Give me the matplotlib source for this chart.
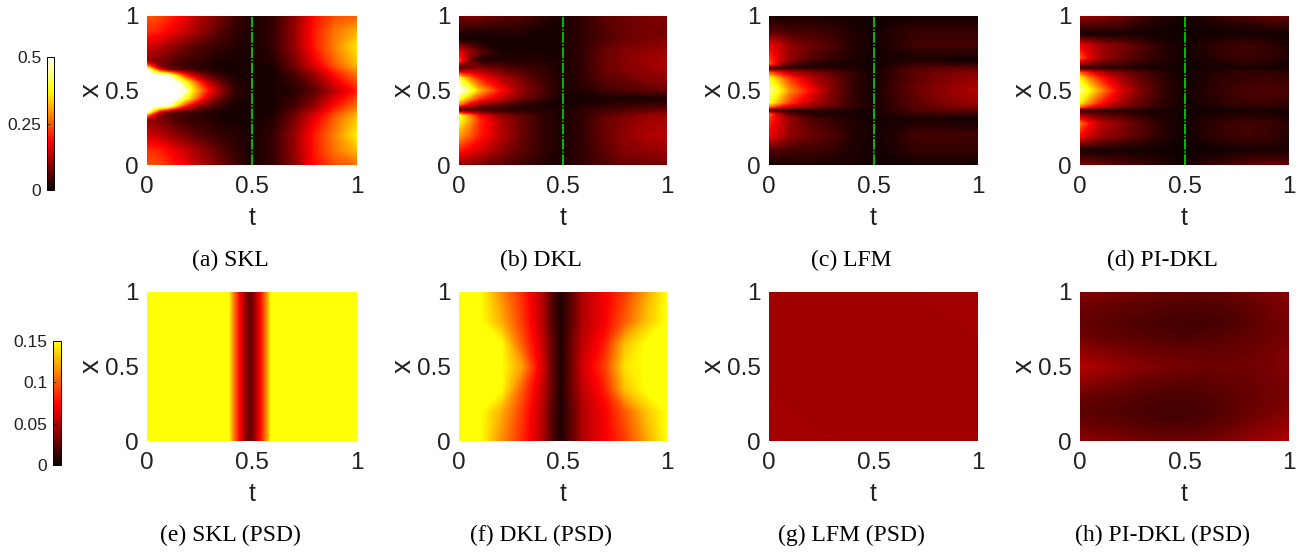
import numpy as np
import matplotlib
matplotlib.use("Agg")
import matplotlib.pyplot as plt
from matplotlib.cm import ScalarMappable
from matplotlib.colors import ListedColormap, Normalize

plt.rcParams['font.family'] = ['Liberation Sans', 'DejaVu Sans']

## time nodes shared by panels b, c, d
t_top = [0, .05, .1, .2, .3, .4, .5, .6, .7, .8, .9, 1]

## (a) SKL
t_a = [0, .03, .06, .1, .14, .18, .22, .26, .3, .36, .42, .5, .6, .7, .8, .9, 1]
x_a = [1, .9, .8, .7, .66, .64, .6, .55, .5, .45, .4, .36, .34, .3, .2, .1, 0]
z_a = [
    [.24, .24, .23, .21, .19, .17, .14, .12, .10, .07, .04, .01, .03, .09, .19, .24, .25],
    [.21, .21, .20, .18, .16, .14, .12, .10, .08, .05, .03, .01, .03, .10, .20, .27, .31],
    [.14, .14, .13, .11, .09, .08, .06, .05, .04, .03, .02, .01, .03, .10, .20, .28, .35],
    [.10, .09, .08, .07, .05, .04, .03, .03, .02, .01, .01, .01, .02, .08, .17, .26, .33],
    [.30, .18, .10, .06, .05, .04, .03, .02, .02, .01, .01, .01, .01, .07, .15, .24, .31],
    [.50, .32, .18, .09, .06, .05, .04, .03, .02, .01, .01, .01, .01, .06, .13, .22, .29],
    [.60, .58, .55, .48, .34, .22, .14, .09, .06, .03, .01, .01, .01, .04, .10, .19, .26],
    [.65, .62, .60, .57, .52, .40, .30, .20, .13, .06, .02, .01, .01, .03, .08, .16, .23],
    [.70, .66, .62, .58, .54, .48, .35, .26, .18, .09, .03, .01, .01, .02, .06, .13, .20],
    [.65, .62, .60, .57, .52, .40, .30, .20, .13, .06, .02, .01, .01, .03, .08, .16, .23],
    [.60, .58, .55, .48, .34, .22, .14, .09, .06, .03, .01, .01, .01, .04, .10, .19, .26],
    [.50, .32, .18, .09, .06, .05, .04, .03, .02, .01, .01, .01, .01, .06, .13, .22, .29],
    [.30, .18, .10, .06, .05, .04, .03, .02, .02, .01, .01, .01, .01, .07, .15, .24, .31],
    [.10, .09, .08, .07, .05, .04, .03, .03, .02, .01, .01, .01, .02, .08, .17, .26, .33],
    [.14, .14, .13, .11, .09, .08, .06, .05, .04, .03, .02, .01, .03, .10, .20, .28, .36],
    [.21, .21, .20, .18, .16, .14, .12, .10, .08, .05, .03, .01, .03, .10, .20, .27, .32],
    [.24, .24, .23, .21, .19, .17, .14, .12, .10, .07, .04, .01, .03, .09, .19, .24, .26],
]

## (b) DKL
x_b = [1, .9, .84, .76, .7, .65, .58, .5, .45, .41, .37, .33, .3, .2, .1, 0]
z_b = [
    [.08, .08, .08, .06, .05, .03, .01, .03, .06, .07, .08, .09],
    [.02, .02, .02, .02, .02, .01, .01, .03, .05, .07, .08, .08],
    [.01, .01, .005, .01, .01, .01, .01, .03, .05, .07, .08, .09],
    [.17, .11, .06, .01, .01, .01, .01, .03, .07, .09, .10, .11],
    [.23, .08, .02, .02, .02, .02, .01, .03, .07, .09, .11, .12],
    [.02, .08, .09, .06, .04, .03, .01, .03, .07, .09, .10, .12],
    [.40, .28, .20, .13, .08, .04, .01, .03, .06, .07, .09, .10],
    [.54, .42, .31, .19, .10, .05, .01, .02, .04, .05, .06, .07],
    [.40, .30, .22, .14, .08, .04, .01, .01, .01, .01, .01, .01],
    [.28, .17, .11, .07, .03, .01, .005, .01, .02, .03, .03, .03],
    [.01, .03, .03, .02, .02, .02, .01, .03, .04, .05, .06, .07],
    [.40, .28, .18, .10, .06, .03, .01, .03, .06, .08, .10, .11],
    [.38, .30, .21, .12, .07, .03, .01, .03, .07, .09, .11, .12],
    [.30, .25, .20, .13, .07, .03, .01, .03, .07, .10, .12, .13],
    [.20, .17, .15, .10, .06, .03, .01, .03, .06, .09, .10, .11],
    [.10, .09, .08, .06, .04, .02, .01, .03, .05, .07, .07, .08],
]

## (c) LFM
x_c = [1, .9, .8, .71, .68, .65, .62, .58, .5, .42, .39, .37, .34, .31, .2, .1, 0]
z_c = [
    [.01, .01, .01, .01, .01, .01, .005, .005, .005, .005, .005, .005],
    [.05, .05, .04, .04, .03, .015, .005, .02, .03, .03, .03, .03],
    [.17, .14, .10, .07, .05, .02, .005, .02, .04, .04, .04, .04],
    [.22, .15, .10, .05, .03, .015, .005, .01, .01, .01, .005, .005],
    [.25, .12, .06, .02, .01, .01, .005, .015, .03, .03, .02, .02],
    [.01, .02, .02, .02, .02, .015, .005, .03, .05, .06, .06, .06],
    [.25, .18, .13, .09, .06, .03, .005, .035, .06, .075, .085, .09],
    [.38, .30, .22, .13, .08, .03, .005, .035, .06, .08, .095, .105],
    [.45, .37, .28, .18, .09, .03, .005, .04, .07, .09, .11, .125],
    [.38, .30, .22, .13, .08, .03, .005, .035, .06, .08, .095, .105],
    [.25, .18, .13, .09, .06, .03, .005, .03, .055, .07, .08, .085],
    [.01, .02, .02, .02, .02, .015, .005, .03, .05, .06, .06, .06],
    [.25, .12, .06, .02, .01, .01, .005, .02, .03, .03, .03, .03],
    [.22, .15, .10, .05, .03, .015, .005, .01, .01, .01, .005, .005],
    [.17, .14, .10, .07, .05, .02, .005, .02, .04, .04, .04, .04],
    [.05, .05, .04, .04, .03, .015, .005, .015, .03, .03, .03, .03],
    [.01, .01, .01, .01, .01, .01, .005, .005, .005, .005, .005, .005],
]

## (d) PI-DKL
x_d = [1, .94, .88, .8, .72, .65, .62, .58, .5, .42, .39, .37, .28, .2, .1, .05, 0]
z_d = [
    [.10, .10, .09, .07, .04, .02, .005, .02, .04, .05, .06, .07],
    [.05, .05, .05, .04, .02, .01, .005, .01, .015, .02, .03, .03],
    [.005, .005, .005, .005, .005, .005, .005, .005, .005, .005, .005, .005],
    [.17, .14, .11, .08, .05, .02, .005, .02, .035, .04, .03, .015],
    [.24, .16, .11, .07, .04, .02, .005, .015, .03, .035, .03, .015],
    [.01, .02, .02, .02, .01, .01, .005, .008, .01, .01, .01, .005],
    [.25, .18, .13, .08, .05, .02, .005, .015, .025, .03, .03, .025],
    [.36, .27, .20, .11, .06, .025, .005, .015, .03, .035, .035, .03],
    [.44, .36, .28, .15, .08, .03, .005, .02, .035, .045, .05, .045],
    [.36, .27, .20, .11, .06, .025, .005, .015, .03, .035, .035, .03],
    [.25, .18, .13, .08, .05, .02, .005, .01, .02, .025, .025, .02],
    [.01, .02, .02, .02, .01, .01, .005, .005, .005, .005, .005, .005],
    [.26, .18, .13, .09, .05, .02, .005, .02, .035, .04, .035, .02],
    [.18, .14, .11, .08, .05, .02, .005, .02, .035, .04, .035, .02],
    [.005, .005, .005, .005, .005, .005, .005, .005, .005, .01, .01, .01],
    [.04, .04, .03, .03, .02, .01, .005, .015, .02, .03, .035, .03],
    [.08, .08, .07, .05, .04, .02, .005, .03, .04, .06, .07, .07],
]

## (e) SKL (PSD)
t_e = [0, .39, .41, .44, .47, .49, .51, .54, .57, .59, 1]
x_e = [1, 0]
z_e = [
    [.15, .15, .115, .075, .04, .027, .04, .075, .115, .15, .15],
    [.15, .15, .115, .075, .04, .027, .04, .075, .115, .15, .15],
]

## (f) DKL (PSD)
t_f = [0, .1, .2, .3, .4, .45, .49, .53, .6, .7, .8, .9, 1]
x_f = [1, .8, .65, .5, .35, .2, 0]
z_f = [
    [.15, .15, .115, .085, .05, .02, .005, .02, .05, .07, .09, .12, .15],
    [.15, .15, .125, .09, .05, .02, .005, .02, .05, .07, .10, .13, .15],
    [.15, .15, .15, .10, .055, .025, .005, .025, .055, .08, .13, .15, .15],
    [.15, .15, .15, .12, .06, .025, .005, .025, .06, .09, .14, .15, .15],
    [.15, .15, .15, .10, .055, .025, .005, .025, .055, .08, .13, .15, .15],
    [.15, .15, .125, .09, .05, .02, .005, .02, .05, .07, .10, .13, .15],
    [.15, .15, .115, .085, .05, .02, .005, .02, .05, .07, .09, .12, .15],
]

## (g) LFM (PSD)
t_g = [0, 1]
x_g = [1, 0]
z_g = [[.045, .046], [.046, .045]]

## (h) PI-DKL (PSD)
t_h = [0, .1, .2, .3, .4, .5, .6, .7, .8, .9, 1]
x_h = [1, .9, .8, .7, .6, .5, .4, .3, .2, .1, 0]
z_h = [
    [.035, .034, .032, .03, .028, .027, .027, .028, .03, .034, .038],
    [.03, .028, .026, .024, .022, .021, .021, .022, .026, .03, .034],
    [.027, .025, .022, .02, .018, .017, .017, .019, .023, .029, .032],
    [.03, .027, .025, .023, .021, .02, .021, .023, .026, .029, .032],
    [.04, .036, .033, .03, .028, .027, .027, .028, .029, .032, .036],
    [.05, .046, .04, .036, .033, .031, .03, .03, .03, .033, .036],
    [.04, .036, .032, .028, .026, .025, .025, .027, .029, .031, .034],
    [.029, .026, .024, .022, .02, .02, .021, .024, .027, .03, .033],
    [.024, .023, .021, .019, .017, .017, .019, .023, .028, .032, .036],
    [.03, .028, .026, .023, .021, .021, .023, .027, .032, .037, .042],
    [.038, .036, .034, .031, .03, .03, .031, .034, .04, .044, .048],
]

captions_top = ["(a) SKL", "(b) DKL", "(c) LFM", "(d) PI-DKL"]
captions_bottom = ["(e) SKL (PSD)", "(f) DKL (PSD)", "(g) LFM (PSD)", "(h) PI-DKL (PSD)"]

W, H = 1301, 552
hot_full = plt.get_cmap('hot')
hot_cut = ListedColormap(hot_full(np.linspace(0, .75, 256)))


## pixel box (from the top left) to figure fractions
def px_axes(fig, left, top, right, bottom):
    return fig.add_axes([left / W, 1 - bottom / H, (right - left) / W, (bottom - top) / H])


def draw_panel(fig, box, t, x, z, vmax, cmap, caption, caption_y, green=False):
    ax = px_axes(fig, *box)
    levels = np.linspace(0, vmax, 129)
    ax.contourf(t, x, np.clip(z, 0, vmax), levels=levels, cmap=cmap, vmin=0, vmax=vmax)
    if green:
        ax.axvline(.5, color='#00f000', lw=1.1, ls=(0, (7, 1, 1, 1)))
    ax.set_xlim(0, 1)
    ax.set_ylim(0, 1)
    ax.set_xticks([0, .5, 1], ['0', '0.5', '1'])
    ax.set_yticks([0, .5, 1], ['0', '0.5', '1'])
    ax.tick_params(length=0, labelsize=17.5, colors='#222222')
    ax.tick_params(axis='x', pad=8)
    ax.tick_params(axis='y', pad=6)
    ax.set_xlabel('t', fontsize=18, labelpad=6, color='#222222')
    ax.set_ylabel('x', fontsize=20, labelpad=0, color='#222222')
    for s in ax.spines.values():
        s.set_visible(False)
    fig.text(((box[0] + box[2]) / 2 - 22) / W, 1 - caption_y / H, caption, ha='center', va='center',
             fontsize=17, family=['Liberation Serif'], color='black')


def draw_cbar(fig, vmax, cmap, box, ticks, labels):
    cax = px_axes(fig, *box)
    cb = fig.colorbar(ScalarMappable(Normalize(0, vmax), cmap), cax=cax)
    cb.set_ticks(ticks, labels=labels)
    cax.yaxis.tick_left()
    cax.tick_params(length=2, width=.6, direction='in', labelsize=12.5, pad=4, colors='#222222')
    cb.outline.set_linewidth(.7)


fig = plt.figure(figsize=(W / 100, H / 100), dpi=100)

panel_x = [(147, 357), (459, 667), (769, 978), (1080, 1289)]
top_data = [(t_a, x_a, z_a), (t_top, x_b, z_b), (t_top, x_c, z_c), (t_top, x_d, z_d)]
bottom_data = [(t_e, x_e, z_e), (t_f, x_f, z_f), (t_g, x_g, z_g), (t_h, x_h, z_h)]

for (l, r), (t, x, z), cap in zip(panel_x, top_data, captions_top):
    draw_panel(fig, (l, 16, r, 165), t, x, z, .5, hot_full, cap, 260, green=True)
for (l, r), (t, x, z), cap in zip(panel_x, bottom_data, captions_bottom):
    draw_panel(fig, (l, 292, r, 441), t, x, z, .15, hot_cut, cap, 535)

draw_cbar(fig, .5, hot_full, (47, 57, 54, 190), [0, .25, .5], ['0', '0.25', '0.5'])
draw_cbar(fig, .15, hot_cut, (53, 341, 61, 465), [0, .05, .1, .15], ['0', '0.05', '0.1', '0.15'])

fig.savefig('out.png', dpi=100)
